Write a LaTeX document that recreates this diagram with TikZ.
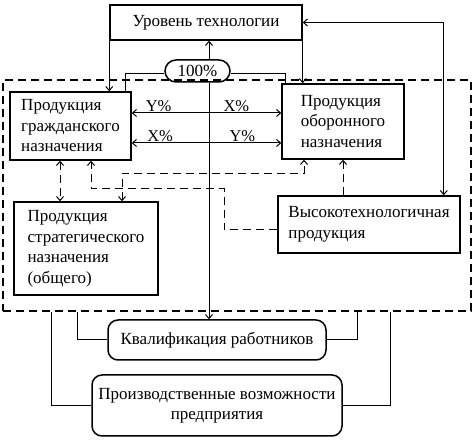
\documentclass[tikz,border=0pt]{standalone}
\usepackage{fontspec}
\setmainfont{Liberation Serif}
\usetikzlibrary{arrows.meta}

\begin{document}
\begin{tikzpicture}[x=1pt, y=-1pt, line width=1pt, >={Straight Barb[length=4pt,width=7pt]},
        box/.style = {draw, line width=1.5pt, align=left, inner sep=0pt, font=\fontsize{17}{20.5}\selectfont},
        rbox/.style = {box, rounded corners=10pt, align=center},
        lbl/.style = {inner sep=1pt, font=\fontsize{16.5}{18}\selectfont},
        dsh/.style = {dash pattern=on 8pt off 5pt}]
        \useasboundingbox (0,0) rectangle (474,443);
        % boxes
        \node[box, align=center, minimum width=192pt, minimum height=35pt] (tech) at (206,22.5) {Уровень технологии};
        \node[rbox, rounded corners=11pt, minimum width=65pt, minimum height=22pt] (pct) at (197.5,71) {100\%};
        \node[box, minimum width=121pt, minimum height=68pt] (civ) at (70.5,126) {Продукция\\гражданского\\назначения};
        \node[box, minimum width=122pt, minimum height=75pt] (def) at (343,121.5) {Продукция\\оборонного\\назначения};
        \node[box, minimum width=144pt, minimum height=93pt] (strat) at (86,248.5) {Продукция\\стратегического\\назначения\\(общего)};
        \node[box, minimum width=182pt, minimum height=57pt] (hitech) at (369,224.5) {Высокотехнологичная\\продукция};
        \node[draw, dsh, line width=1.2pt, minimum width=468pt, minimum height=231pt] (sys) at (237,195.5) {};
        \node[rbox, minimum width=218pt, minimum height=40pt] (qual) at (217,340) {Квалификация работников};
        \node[rbox, minimum width=250pt, minimum height=61pt] (prod) at (217,405.5) {Производственные возможности\\предприятия};
        % solid links
        \draw[<->] (tech.east) -| ([xshift=-17pt]hitech.north east);
        \draw[->] (tech.south west) -- (tech.south west |- civ.north);
        \draw[->] (tech.south east) -- (tech.south east |- def.north);
        \draw[->] ([xshift=11.5pt]pct.north) -- ([xshift=11.5pt]pct.north |- tech.south);
        \draw[->] ([xshift=11.5pt]pct.south) -- ([xshift=11.5pt]pct.south |- qual.north);
        \draw ([yshift=-3pt]pct.west) -| ([xshift=54.5pt]civ.north);
        \draw ([yshift=-3pt]pct.east) -| ([xshift=-58pt]def.north);
        \draw[<->] ([yshift=13pt]civ.east) -- ([yshift=13pt]civ.east -| def.west)
            node[lbl, pos=0.18, above] {Y\%} node[lbl, pos=0.7, above] {X\%};
        \draw[<->] ([yshift=-17pt]civ.east) -- ([yshift=-17pt]civ.east -| def.west)
            node[lbl, pos=0.19, above] {X\%} node[lbl, pos=0.74, above] {Y\%};
        % dashed links
        \draw[dsh, <->] ([xshift=-10.5pt]civ.south) -- ([xshift=-10.5pt]civ.south |- strat.north);
        \draw[dsh, ->] ([yshift=-5pt]hitech.west) -| (224,189) -| ([xshift=20.5pt]civ.south);
        \draw[dsh, <->] ([xshift=36pt]strat.north) -- ++(0,-28) -| ([xshift=-39pt]def.south);
        \draw[dsh, ->] (hitech.north -| def.south) -- (def.south);
        % bottom
        \draw (qual.west) -| ([xshift=75pt]sys.south west);
        \draw (qual.east) -| ([xshift=-114pt]sys.south east);
        \draw (prod.west) -| ([xshift=49pt]sys.south west);
        \draw (prod.east) -| ([xshift=-81pt]sys.south east);
    \end{tikzpicture}
\end{document}
